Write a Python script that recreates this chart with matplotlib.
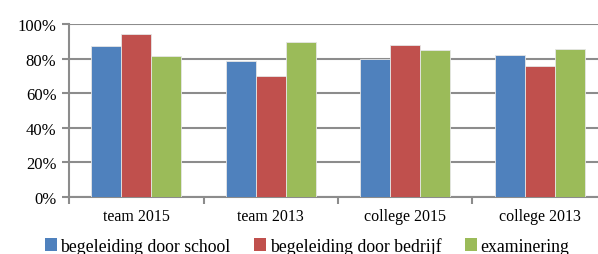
import matplotlib.pyplot as plt
import numpy as np
from matplotlib.patches import Patch
from matplotlib.ticker import PercentFormatter

categories = ["team 2015", "team 2013", "college 2015", "college 2013"]
series = ["begeleiding door school", "begeleiding door bedrijf", "examinering"]
school = [87.3, 78.7, 80.0, 81.8]
bedrijf = [94.0, 69.8, 87.9, 76.0]
examinering = [81.5, 89.4, 85.2, 85.6]
colors = ["#4F81BD", "#C0504D", "#9BBB59"]

plt.rcParams["font.family"] = ["Liberation Serif", "DejaVu Serif"]

fig = plt.figure(figsize=(5.98, 2.55), dpi=100)
# axes runs past the right edge, as in the cropped original
ax = fig.add_axes([69 / 598, 1 - 198 / 255, 538 / 598, 173 / 255])

x = np.arange(len(categories))
w = 0.223
for i, (vals, c) in enumerate(zip([school, bedrijf, examinering], colors)):
    ax.bar(x + (i - 1) * w, vals, width=w, color=c, edgecolor="#E6E6E6",
           linewidth=0.6, zorder=3)

ax.set_xlim(-0.5, len(categories) - 0.5)
ax.set_ylim(0, 100)
ax.set_yticks(np.arange(0, 101, 20))
ax.yaxis.set_major_formatter(PercentFormatter(decimals=0))
ax.grid(axis="y", color="#8C8C8C", linewidth=1.5, zorder=0)

ax.set_xticks(x)
ax.set_xticklabels(categories)
ax.set_xticks(np.arange(-0.5, len(categories), 1), minor=True)
ax.tick_params(axis="x", which="major", length=0, pad=8, labelsize=11.5)
ax.tick_params(axis="x", which="minor", length=5, width=1.5, color="#8C8C8C")
ax.tick_params(axis="y", length=5, width=1.5, color="#8C8C8C", labelsize=12, pad=4)

for s in ["top", "right"]:
    ax.spines[s].set_visible(False)
for s in ["left", "bottom"]:
    ax.spines[s].set_color("#8C8C8C")
    ax.spines[s].set_linewidth(1.5)

handles = [Patch(facecolor=c, edgecolor="none") for c in colors]
fig.legend(handles, series, loc="center left", bbox_to_anchor=(38 / 598, 1 - 247 / 255),
           ncol=3, frameon=False, fontsize=12.8, handlelength=0.65, handleheight=0.7,
           handletextpad=0.2, columnspacing=1.35, borderaxespad=0)

fig.savefig("out.png", dpi=100)
